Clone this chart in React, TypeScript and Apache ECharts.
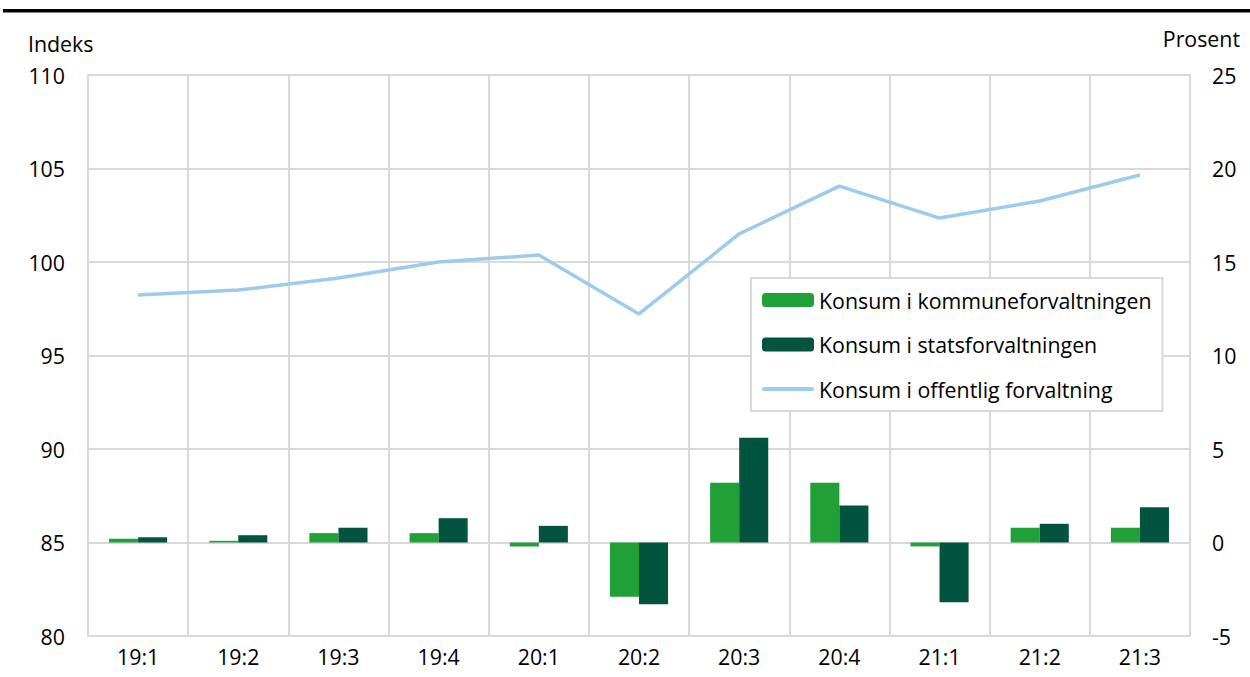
import React, { useEffect, useRef } from "react";
import * as echarts from "echarts";

const categories = ["19:1", "19:2", "19:3", "19:4", "20:1", "20:2", "20:3", "20:4", "21:1", "21:2", "21:3"];
const kommune = [0.2, 0.09, 0.5, 0.5, -0.21, -2.9, 3.2, 3.2, -0.21, 0.79, 0.79];
const stat = [0.28, 0.39, 0.79, 1.3, 0.89, -3.3, 5.6, 1.98, -3.2, 1.0, 1.89];
const offentlig = [98.24, 98.5, 99.14, 100.0, 100.37, 97.22, 101.5, 104.06, 102.35, 103.26, 104.65];
const seriesNames = ["Konsum i kommuneforvaltningen", "Konsum i statsforvaltningen", "Konsum i offentlig forvaltning"];

const FONT = "Open Sans";
const FS = 21.33;
const GRID = "#d9d9d9";
const LINE_COLOR = "#9dcbee";

export default function App() {
  const ref = useRef<HTMLDivElement>(null);
  useEffect(() => {
    if (!ref.current) return;
    const chart = echarts.init(ref.current, undefined, { renderer: "svg" });
    chart.setOption({
      animation: false,
      textStyle: { fontFamily: FONT },
      grid: { left: 88, right: 60, top: 75, bottom: 41, containLabel: false },
      graphic: [
        { type: "rect", shape: { x: 3, y: 9, width: 1247, height: 3.5 }, style: { fill: "#000" } },
        { type: "text", left: 28, top: 33, style: { text: "Indeks", fontSize: FS, fontFamily: FONT, fill: "#000" } },
        { type: "text", right: 10, top: 28, style: { text: "Prosent", fontSize: FS, fontFamily: FONT, fill: "#000" } },
      ],
      legend: {
        orient: "vertical",
        left: 751,
        top: 278,
        padding: [10, 11, 10, 11],
        borderColor: GRID,
        borderWidth: 2,
        backgroundColor: "#fff",
        itemWidth: 52,
        itemHeight: 14,
        itemGap: 20.5,
        textStyle: { fontSize: FS, color: "#000", fontFamily: FONT, lineHeight: 24 },
        data: [
          { name: seriesNames[0] },
          { name: seriesNames[1] },
          { name: seriesNames[2], icon: "path://M2,0 L50,0 A2,2 0 0 1 50,4 L2,4 A2,2 0 0 1 2,0 Z" },
        ],
      },
      xAxis: {
        type: "category",
        data: categories,
        boundaryGap: true,
        axisTick: { show: false },
        axisLine: { show: true, lineStyle: { color: GRID, width: 2 } },
        axisLabel: { fontSize: FS, color: "#000", margin: 10, interval: 0 },
        splitLine: { show: true, interval: 0, lineStyle: { color: GRID, width: 2 } },
      },
      yAxis: [
        {
          type: "value",
          min: 80,
          max: 110,
          interval: 5,
          axisLine: { show: true, lineStyle: { color: GRID, width: 2 } },
          axisTick: { show: false },
          axisLabel: { fontSize: FS, color: "#000", margin: 23 },
          splitLine: { show: true, lineStyle: { color: GRID, width: 2 } },
        },
        {
          type: "value",
          min: -5,
          max: 25,
          interval: 5,
          position: "right",
          axisLine: { show: true, lineStyle: { color: GRID, width: 2 } },
          axisTick: { show: false },
          axisLabel: { fontSize: FS, color: "#000", margin: 22 },
          splitLine: { show: false },
        },
      ],
      series: [
        {
          name: seriesNames[0],
          type: "bar",
          yAxisIndex: 1,
          data: kommune,
          barGap: "0%",
          barCategoryGap: "42%",
          itemStyle: { color: "#21a038" },
          z: 3,
        },
        {
          name: seriesNames[1],
          type: "bar",
          yAxisIndex: 1,
          data: stat,
          barGap: "0%",
          barCategoryGap: "42%",
          itemStyle: { color: "#02543f" },
          z: 3,
        },
        {
          name: seriesNames[2],
          type: "line",
          yAxisIndex: 0,
          data: offentlig,
          symbol: "none",
          lineStyle: { color: LINE_COLOR, width: 3.5 },
          itemStyle: { color: LINE_COLOR },
          z: 4,
        },
      ],
    });
    return () => chart.dispose();
  }, []);
  return <div ref={ref} style={{ position: "absolute", left: 0, top: 0, width: 1250, height: 677 }} />;
}
